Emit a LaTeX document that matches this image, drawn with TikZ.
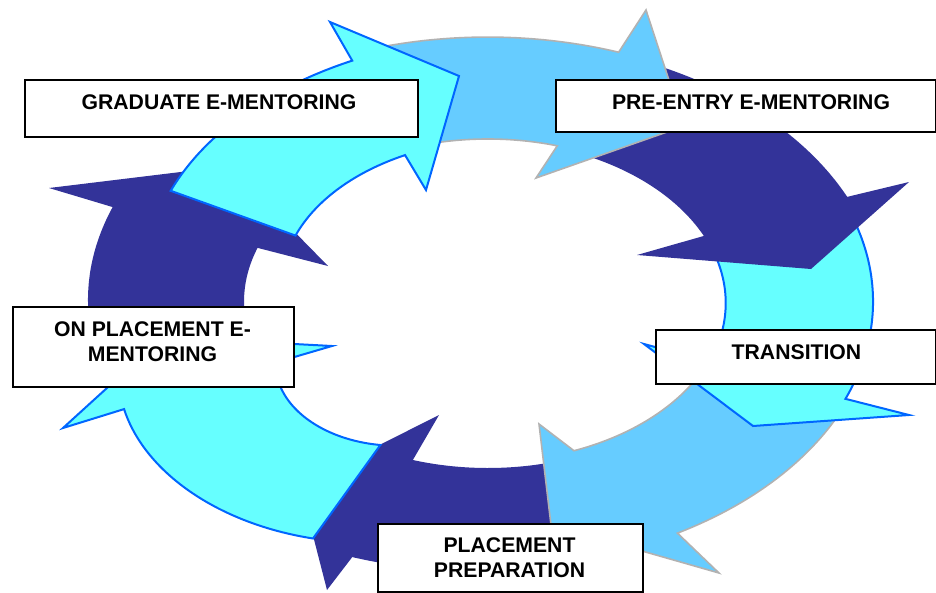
\documentclass[tikz,border=0pt]{standalone}
\usepackage{fontspec}
\setmainfont{Liberation Sans}
\definecolor{navy}{HTML}{333399}
\definecolor{lblue}{HTML}{66CCFF}
\definecolor{aqua}{HTML}{66FFFF}
\definecolor{aquaedge}{HTML}{0066FF}
\definecolor{greyedge}{HTML}{B2B2B2}
\newcommand\setring[9]{\def\RTa{#1}\def\RTo{#2}\def\RTi{#3}\def\RIa{#4}\def\RIb{#5}\def\ROa{#6}\def\ROb{#7}\def\RBi{#8}\def\RBo{#9}}
\newcommand\ringarrow[2]{%
 \path[#1] plot[domain=0:1,samples=60,variable=\q]
   ({483+1.48*(\ROa+(\ROb-\ROa)*\q+4*(\RBo)*\q*(1-\q))*cos(\RTa+(\RTo-\RTa)*\q)},
    {303+(\ROa+(\ROb-\ROa)*\q+4*(\RBo)*\q*(1-\q))*sin(\RTa+(\RTo-\RTa)*\q)})
   -- #2 --
   plot[domain=0:1,samples=60,variable=\q]
   ({483+1.48*(\RIb+(\RIa-\RIb)*\q+4*(\RBi)*\q*(1-\q))*cos(\RTi+(\RTa-\RTi)*\q)},
    {303+(\RIb+(\RIa-\RIb)*\q+4*(\RBi)*\q*(1-\q))*sin(\RTi+(\RTa-\RTi)*\q)})
   -- cycle;}
\tikzset{
  darkarrow/.style={fill=navy},
  lightarrow/.style={fill=lblue,draw=greyedge,line width=1.6pt,line join=miter},
  aquaarrow/.style={fill=aqua,draw=aquaedge,line width=2pt,line join=miter},
  labelbox/.style={draw=black,fill=white,line width=1.8pt,inner sep=0pt},
  labeltext/.style={font=\fontsize{21.2}{24.5}\selectfont\bfseries,inner sep=0pt,align=center,text=black}
}
\begin{document}
\begin{tikzpicture}[x=1pt,y=-1pt]
\useasboundingbox (0,0) rectangle (936,592);
% D dark bottom
\setring{72}{109.2}{106.8}{166}{164}{268}{269}{0}{0}
\ringarrow{darkarrow}{(327,590) -- (300,485) -- (439,415)}
% F dark left
\setring{163}{201}{199.9}{161}{162}{266}{268}{0}{0}
\ringarrow{darkarrow}{(49,188) -- (230,166) -- (328,266)}
% C light blue bottom right
\setring{25}{60.3}{67.4}{163}{160}{265}{265}{0}{0}
\ringarrow{lightarrow}{(719,573) -- (551,525) -- (539,424)}
% B aqua right
\setring{342}{381.4}{381}{164}{164}{264}{263}{0}{0}
\ringarrow{aquaarrow}{(909,415) -- (753,426) -- (644,344)}
% A dark right
\setring{294}{336.7}{335.8}{163}{163.6}{265}{268}{0}{0}
\ringarrow{darkarrow}{(909,182) -- (811,269) -- (637,255)}
% H light blue top
\setring{253}{290.1}{287.7}{163}{165}{265}{267}{0}{0}
\ringarrow{lightarrow}{(646,10) -- (684,126) -- (536,178)}
% G aqua top-left
\setring{208}{250}{250.4}{143.5}{157}{239}{258}{0}{0}
\ringarrow{aquaarrow}{(330,22) -- (459,76) -- (426,190)}
% E aqua bottom-left
\setring{116}{156.4}{157}{158}{152}{262}{264.7}{11}{10}
\ringarrow{aquaarrow}{(63,428) -- (163,337) -- (332,346)}
% label boxes
\node[labelbox,anchor=north west,minimum width=393pt,minimum height=57pt] (bgrad) at (24,79) {};
\node[labeltext] (tgrad) at (219,102) {GRADUATE E-MENTORING};
\node[labelbox,anchor=north west,minimum width=380pt,minimum height=52pt] (bpre) at (555,79) {};
\node[labeltext] (tpre) at (751,102) {PRE-ENTRY E-MENTORING};
\node[labelbox,anchor=north west,minimum width=281pt,minimum height=80pt] (bon) at (12,306) {};
\node[labeltext] (ton) at (152.5,341.5) {ON PLACEMENT E-\\MENTORING};
\node[labelbox,anchor=north west,minimum width=280pt,minimum height=54pt] (btra) at (655,329) {};
\node[labeltext] (ttra) at (796.5,352) {TRANSITION};
\node[labelbox,anchor=north west,minimum width=265pt,minimum height=68pt] (bprep) at (377,523) {};
\node[labeltext] (tprep) at (509.5,557.5) {PLACEMENT\\PREPARATION};
\end{tikzpicture}
\end{document}
